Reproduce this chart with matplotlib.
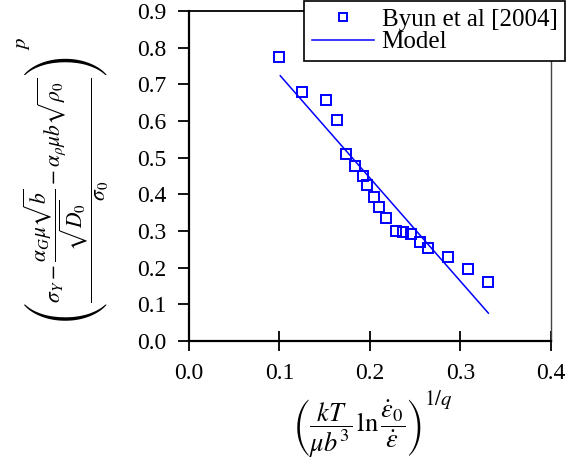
import numpy as np
import matplotlib
matplotlib.use("Agg")
from matplotlib import pyplot as plt

# ----------------------------------------------------------------------------------------------------------------------
# data

exp_x = [0.100, 0.125, 0.151, 0.164, 0.174, 0.184, 0.192, 0.197, 0.205, 0.210,
         0.218, 0.229, 0.237, 0.246, 0.255, 0.264, 0.286, 0.309, 0.331]
exp_y = [0.775, 0.678, 0.656, 0.602, 0.511, 0.477, 0.449, 0.424, 0.393, 0.365,
         0.334, 0.300, 0.297, 0.291, 0.270, 0.254, 0.229, 0.196, 0.162]

model_x = [0.101, 0.331]
model_y = [0.723, 0.076]

x_ticks = [0.0, 0.1, 0.2, 0.3, 0.4]
y_ticks = [0.0, 0.1, 0.2, 0.3, 0.4, 0.5, 0.6, 0.7, 0.8, 0.9]

# ----------------------------------------------------------------------------------------------------------------------

plt.rcParams['font.family'] = ['Liberation Serif', 'DejaVu Serif']
plt.rcParams['mathtext.fontset'] = 'stix'

BLUE = '#0000ff'
FS = 17
W, H = 569.0, 471.0

XLABEL = r'$\left(\dfrac{kT}{\mu b^3}\,\ln\dfrac{\dot{\varepsilon}_0}{\dot{\varepsilon}}\right)$'
YLABEL = (r'$\left(\dfrac{\sigma_Y - \dfrac{\alpha_G\mu\sqrt{b}}{\sqrt{D_0}}'
          r' - \alpha_\rho\mu b\sqrt{\rho_0}}{\sigma_0}\right)$')


def main():
    fig = plt.figure(figsize=(5.69, 4.71), dpi=100)
    ax = fig.add_axes([0.332, 0.276, 0.636, 0.701])

    ax.plot(exp_x, exp_y, ls='none', marker='s', ms=6.5, mfc='none', mec=BLUE, mew=1.4,
            label='Byun et al [2004]')
    ax.plot(model_x, model_y, color=BLUE, lw=1.1, label='Model')

    ax.set_xlim(0.0, 0.4)
    ax.set_ylim(0.0, 0.9)
    ax.set_xticks(x_ticks)
    ax.set_yticks(y_ticks)
    ax.set_xticklabels(['%.1f' % v for v in x_ticks], fontsize=FS)
    ax.set_yticklabels(['%.1f' % v for v in y_ticks], fontsize=FS)
    ax.tick_params(axis='x', direction='inout', length=14, width=1.3, pad=8.5)
    ax.tick_params(axis='y', direction='out', length=8, width=1.3, pad=8)

    for side in ['left', 'bottom']:
        ax.spines[side].set_linewidth(1.6)
    ax.spines['top'].set_linewidth(1.3)
    ax.spines['right'].set_linewidth(1.0)
    ax.spines['right'].set_color('#444444')

    # axis titles, placed by hand (exponents as separate pieces)
    fig.text(357 / W, 1 - 428 / H, XLABEL, fontsize=19, ha='center', va='center')
    fig.text(424 / W, 1 - 388 / H, r'$1/q$', fontsize=15, ha='left', va='top')
    fig.text(66 / W, 1 - 190 / H, YLABEL, fontsize=15.5, rotation=90, ha='center', va='center')
    fig.text(13 / W, 1 - 37 / H, r'$p$', fontsize=15, rotation=90, ha='left', va='top')

    leg = ax.legend(loc='upper right', bbox_to_anchor=(0.993, 0.998), bbox_transform=fig.transFigure,
                    fontsize=18, frameon=True, fancybox=False, framealpha=1.0, edgecolor='black',
                    borderaxespad=0, borderpad=0.3, labelspacing=0.0, handlelength=2.5,
                    handletextpad=0.3, markerscale=0.8)
    leg.get_frame().set_linewidth(1.2)

    fig.savefig('out.png', dpi=100)


if __name__ == "__main__":
    main()
